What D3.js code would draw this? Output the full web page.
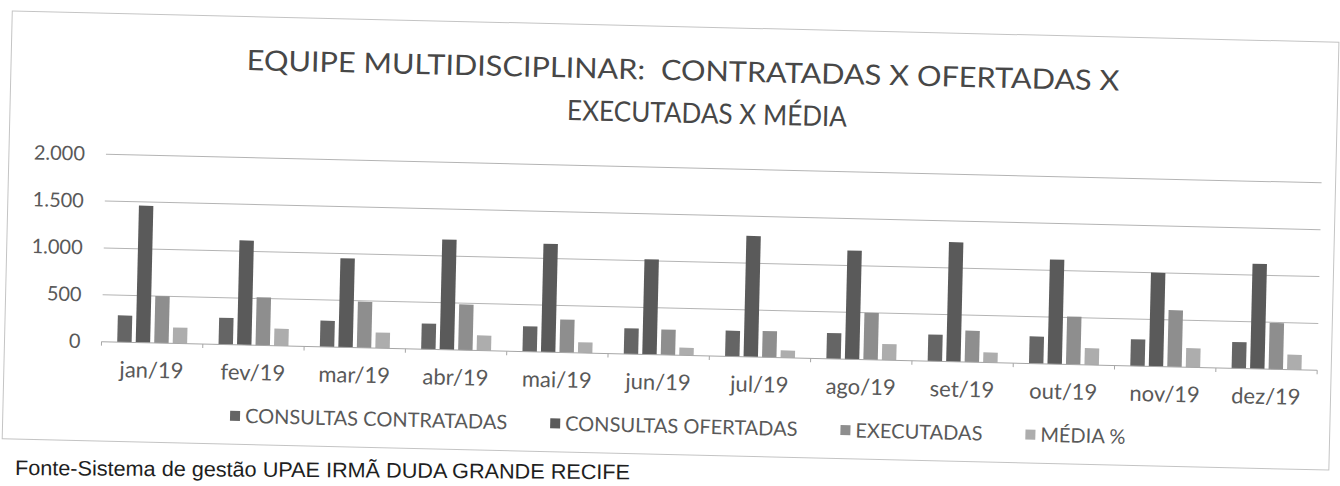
<!DOCTYPE html>
<html>
<head>
<meta charset="utf-8">
<script src="https://cdn.jsdelivr.net/npm/d3@7"></script>
<style>
  body { margin: 0; background: #fff; }
  svg text { font-family: Lato, "Open Sans", sans-serif; }
</style>
</head>
<body>
<div id="chart"></div>
<script>
const months = ["jan/19", "fev/19", "mar/19", "abr/19", "mai/19", "jun/19",
  "jul/19", "ago/19", "set/19", "out/19", "nov/19", "dez/19"];
const contratadas = [285, 285, 280, 275, 270, 275, 275, 275, 285, 290, 285, 280];
const ofertadas = [1460, 1115, 950, 1175, 1155, 1015, 1290, 1160, 1275, 1115, 1000, 1120];
const executadas = [500, 512, 492, 488, 352, 270, 280, 500, 335, 512, 605, 494];
const media = [170, 183, 166, 162, 113, 82, 78, 172, 108, 178, 204, 160];
const seriesNames = ["CONSULTAS CONTRATADAS", "CONSULTAS OFERTADAS", "EXECUTADAS", "MÉDIA %"];
const yTicks = [0, 500, 1000, 1500, 2000];
const titleLines = ["EQUIPE MULTIDISCIPLINAR:  CONTRATADAS X OFERTADAS X", "EXECUTADAS X MÉDIA"];
const source = "Fonte-Sistema de gestão UPAE IRMÃ DUDA GRANDE RECIFE";

const colors = ["#656565", "#5a5a5a", "#8e8e8e", "#adadad"];

// page is a scan, so the whole chart sits a little tilted
const tilt = 1.35;
const W = 1340, H = 486;
const plot = { left: 104, right: 1320, top: 167.5, bottom: 355 };

const svg = d3.select("#chart").append("svg")
  .attr("width", W)
  .attr("height", H);

const g = svg.append("g").attr("transform", `rotate(${tilt}, 670, 243)`);

// chart frame
g.append("rect")
  .attr("x", 7).attr("y", 26.5)
  .attr("width", 1327).attr("height", 428)
  .attr("fill", "none")
  .attr("stroke", "#c4c4c4")
  .attr("stroke-width", 1);

// title
const titleX = [679, 704];
const titleW = [873, 280];
g.selectAll(".title")
  .data(titleLines)
  .join("text")
  .attr("class", "title")
  .attr("x", (d, i) => titleX[i])
  .attr("y", (d, i) => [80, 122.5][i])
  .attr("text-anchor", "middle")
  .attr("textLength", (d, i) => titleW[i])
  .attr("lengthAdjust", "spacingAndGlyphs")
  .style("white-space", "pre")
  .style("font-size", "28px")
  .style("fill", "#474747")
  .text(d => d);

// scales
const data = months.map((m, i) => ({
  month: m,
  values: [contratadas[i], ofertadas[i], executadas[i], media[i]]
}));

const x0 = d3.scaleBand()
  .domain(months)
  .range([plot.left, plot.right])
  .paddingInner(0.31)
  .paddingOuter(0.155);

const x1 = d3.scaleBand()
  .domain(d3.range(seriesNames.length))
  .range([0, x0.bandwidth()])
  .paddingInner(0.22);

const y = d3.scaleLinear()
  .domain([0, 2000])
  .range([plot.bottom, plot.top]);

const ptBR = d3.formatLocale({ decimal: ",", thousands: ".", grouping: [3], currency: ["R$", ""] });

// gridlines
g.append("g")
  .selectAll("line")
  .data(yTicks.filter(d => d > 0))
  .join("line")
  .attr("x1", plot.left)
  .attr("x2", plot.right)
  .attr("y1", d => y(d))
  .attr("y2", d => y(d))
  .attr("stroke", "#b4b4b4")
  .attr("stroke-width", 1);

// y axis labels
const yAxis = g.append("g")
  .attr("transform", `translate(${plot.left},0)`)
  .call(d3.axisLeft(y).tickValues(yTicks).tickSize(0).tickPadding(21).tickFormat(ptBR.format(",")));
yAxis.select(".domain").remove();
yAxis.selectAll("text")
  .style("font-size", "20px")
  .style("font-family", "Lato, sans-serif")
  .style("fill", "#595959");

// bars
g.append("g")
  .selectAll("g")
  .data(data)
  .join("g")
  .attr("transform", d => `translate(${x0(d.month)},0)`)
  .selectAll("rect")
  .data(d => d.values)
  .join("rect")
  .attr("x", (d, i) => x1(i))
  .attr("y", d => y(d))
  .attr("width", x1.bandwidth())
  .attr("height", d => y(0) - y(d))
  .attr("fill", (d, i) => colors[i]);

// x axis line and category tick marks
g.append("line")
  .attr("x1", plot.left).attr("x2", plot.right)
  .attr("y1", y(0)).attr("y2", y(0))
  .attr("stroke", "#a6a6a6");

const step = x0.step();
g.append("g")
  .selectAll("line")
  .data(d3.range(months.length + 1))
  .join("line")
  .attr("x1", i => plot.left + i * step)
  .attr("x2", i => plot.left + i * step)
  .attr("y1", y(0))
  .attr("y2", y(0) + 4)
  .attr("stroke", "#a6a6a6");

const xAxis = g.append("g")
  .attr("transform", `translate(0,${plot.bottom})`)
  .call(d3.axisBottom(x0).tickSize(0));
xAxis.select(".domain").remove();
xAxis.selectAll("text")
  .attr("y", 35)
  .attr("dy", null)
  .style("font-size", "22px")
  .style("font-family", "Lato, sans-serif")
  .style("fill", "#595959");

// legend
const legend = g.append("g");
let lx = 0;
seriesNames.forEach((name, i) => {
  const item = legend.append("g").attr("transform", `translate(${lx},0)`);
  item.append("rect")
    .attr("y", -12)
    .attr("width", 10)
    .attr("height", 10)
    .attr("fill", colors[i]);
  const t = item.append("text")
    .attr("x", 15)
    .style("font-size", "20px")
    .style("fill", "#595959")
    .text(name);
  lx += 15 + t.node().getComputedTextLength() + 43;
});
const legendW = lx - 43;
legend.attr("transform", `translate(${682 - legendW / 2},433)`);

// source line under the chart (not part of the chart frame)
svg.append("text")
  .attr("x", 15)
  .attr("y", 475)
  .attr("transform", "rotate(0.4, 15, 475)")
  .attr("textLength", 615)
  .attr("lengthAdjust", "spacingAndGlyphs")
  .style("font-family", "'Liberation Sans', Arial, sans-serif")
  .style("font-size", "21px")
  .style("fill", "#1e1e1e")
  .text(source);
</script>
</body>
</html>
